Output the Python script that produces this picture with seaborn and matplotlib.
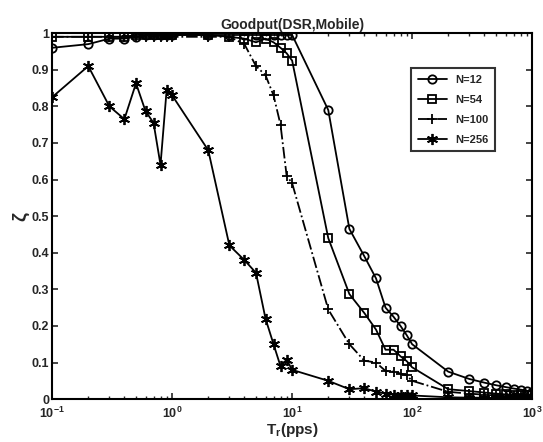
import numpy as np
import pandas as pd
import matplotlib
matplotlib.use("Agg")
import matplotlib.pyplot as plt
import seaborn as sns

# Tr values (pps)
tr = [0.1, 0.2, 0.3, 0.4, 0.5, 0.6, 0.7, 0.8, 0.9,
      1, 2, 3, 4, 5, 6, 7, 8, 9,
      10, 20, 30, 40, 50, 60, 70, 80, 90,
      100, 200, 300, 400, 500, 600, 700, 800, 900, 1000]

n12 = [0.96, 0.97, 0.985, 0.985, 0.99, 0.995, 0.995, 0.995, 0.995,
       0.995, 0.995, 0.995, 0.995, 0.995, 0.995, 0.995, 0.995, 0.995,
       0.995, 0.79, 0.465, 0.39, 0.33, 0.25, 0.225, 0.20, 0.175,
       0.15, 0.075, 0.055, 0.045, 0.038, 0.033, 0.029, 0.026, 0.023, 0.02]

n54 = [0.99, 0.99, 0.99, 0.99, 0.995, 0.995, 0.995, 0.995, 0.995,
       0.995, 0.995, 0.99, 0.985, 0.975, 0.985, 0.975, 0.96, 0.945,
       0.925, 0.44, 0.287, 0.235, 0.19, 0.135, 0.135, 0.117, 0.104,
       0.087, 0.027, 0.022, 0.018, 0.015, 0.013, 0.012, 0.011, 0.01, 0.01]

n100 = [0.99, 0.99, 0.99, 0.99, 0.99, 0.99, 0.99, 0.99, 0.99,
        0.99, 0.99, 0.99, 0.97, 0.91, 0.885, 0.83, 0.75, 0.61,
        0.59, 0.245, 0.15, 0.105, 0.10, 0.077, 0.075, 0.07, 0.065,
        0.05, 0.02, 0.015, 0.012, 0.01, 0.01, 0.008, 0.008, 0.007, 0.007]

n256 = [0.825, 0.91, 0.80, 0.765, 0.863, 0.787, 0.755, 0.64, 0.845,
        0.83, 0.68, 0.42, 0.38, 0.345, 0.22, 0.15, 0.09, 0.108,
        0.08, 0.05, 0.027, 0.03, 0.02, 0.015, 0.012, 0.01, 0.01,
        0.01, 0.005, 0.004, 0.004, 0.003, 0.003, 0.003, 0.003, 0.003, 0.003]

labels = ["N=12", "N=54", "N=100", "N=256"]
yticks = [0, 0.1, 0.2, 0.3, 0.4, 0.5, 0.6, 0.7, 0.8, 0.9, 1]
ytick_labels = ["0", "0.1", "0.2", "0.3", "0.4", "0.5", "0.6", "0.7", "0.8", "0.9", "1"]

sns.set_theme(style="ticks")
plt.rcParams["font.family"] = ["Liberation Sans", "DejaVu Sans"]
plt.rcParams["font.weight"] = "bold"
plt.rcParams["mathtext.default"] = "regular"
plt.rcParams["xtick.direction"] = "in"
plt.rcParams["ytick.direction"] = "in"

fig = plt.figure(figsize=(5.43, 4.42), dpi=100)
ax = fig.add_axes([0.096, 0.097, 0.884, 0.828])

series = [n12, n54, n100, n256]
markers = ["o", "s", "+", (6, 2, 0)]
styles = ["-", "-", "-.", "-"]
msizes = [6, 6, 7, 8]
for vals, lab, mk, ls, ms in zip(series, labels, markers, styles, msizes):
    sns.lineplot(x=tr, y=vals, ax=ax, color="black", marker=mk, linestyle=ls,
                 markersize=ms, markerfacecolor="none", markeredgecolor="black",
                 markeredgewidth=1.3, linewidth=1.3, label=lab)

ax.set_xscale("log")
ax.set_xlim(0.1, 1000)
ax.set_ylim(0, 1)
ax.set_yticks(yticks)
ax.set_yticklabels(ytick_labels)
ax.tick_params(axis="both", labelsize=9, width=1.2, length=4, top=True, right=True)
ax.tick_params(axis="x", pad=5)
ax.tick_params(axis="y", pad=2)
ax.tick_params(which="minor", direction="in", length=2.5, top=True, width=1)
for lab in ax.get_xticklabels() + ax.get_yticklabels():
    lab.set_fontweight("bold")
for sp in ax.spines.values():
    sp.set_linewidth(1.5)
    sp.set_color("black")

ax.set_title("Goodput(DSR,Mobile)", fontsize=10, fontweight="bold", pad=3)
ax.set_xlabel("T$_r$(pps)", fontsize=11, fontweight="bold", labelpad=0)
ax.set_ylabel("ζ", fontsize=14, fontweight="bold", labelpad=2)

leg = ax.legend(loc="upper right", bbox_to_anchor=(0.935, 0.92), fontsize=8,
                frameon=True, fancybox=False, edgecolor="black", handlelength=2.6,
                borderpad=0.6, labelspacing=0.9)
leg.get_frame().set_linewidth(1.5)
for t in leg.get_texts():
    t.set_fontweight("bold")

fig.savefig("out.png", dpi=100)
